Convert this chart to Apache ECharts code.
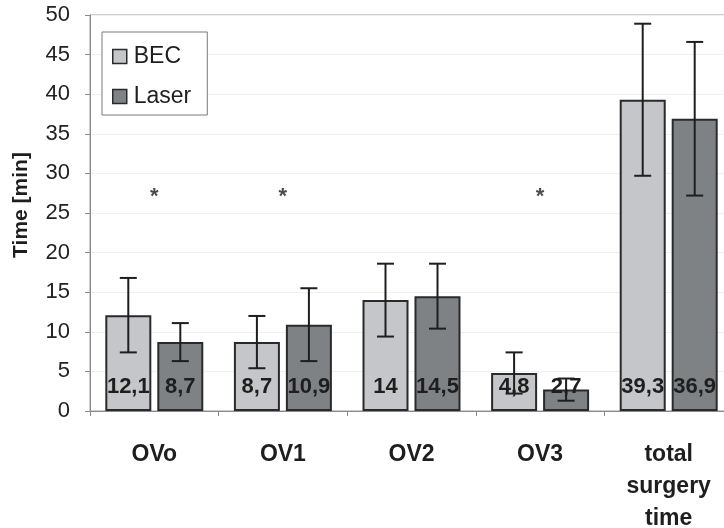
<!DOCTYPE html>
<html>
<head>
<meta charset="utf-8">
<script src="https://cdn.jsdelivr.net/npm/echarts@6/dist/echarts.min.js"></script>
<style>
  html, body { margin: 0; padding: 0; background: #ffffff; }
  #chart { width: 724px; height: 528px; }
</style>
</head>
<body>
<div id="chart"></div>
<script>
// Procedure phases
const categories = ['OVo', 'OV1', 'OV2', 'OV3', 'total\nsurgery\ntime'];
// Mean durations [min]
const becMean   = [12.1, 8.7, 14.0, 4.8, 39.3];
const laserMean = [8.7, 10.9, 14.5, 2.7, 36.9];
// Standard deviations [min]
const becSd   = [4.7, 3.3, 4.6, 2.6, 9.6];
const laserSd = [2.4, 4.6, 4.1, 1.4, 9.7];
// Significance markers (category index, height on the time axis)
const starCats   = [0, 1, 3];
const starHeight = [27, 27, 27];
// Axis ticks
const yTicks = { min: 0, max: 50, step: 5 };

const fmt = v => String(v % 1 === 0 ? v : v.toFixed(1)).replace('.', ',');

const BAR_W = 46;
const BAR_GAP = 6;
const half = (BAR_W + BAR_GAP) / 2;

const chart = echarts.init(document.getElementById('chart'), null, { renderer: 'canvas' });

function errorBars(offset) {
  return function (params, api) {
    const ci = api.value(0);
    const m = api.value(1);
    const s = api.value(2);
    const top = api.coord([ci, m + s]);
    const bot = api.coord([ci, m - s]);
    const x = top[0] + offset;
    const cap = 8.5;
    const style = { stroke: '#1e1e1e', lineWidth: 2, fill: null };
    return {
      type: 'group',
      children: [
        { type: 'line', shape: { x1: x, y1: top[1], x2: x, y2: bot[1] }, style },
        { type: 'line', shape: { x1: x - cap, y1: top[1], x2: x + cap, y2: top[1] }, style },
        { type: 'line', shape: { x1: x - cap, y1: bot[1], x2: x + cap, y2: bot[1] }, style }
      ]
    };
  };
}

const barLabel = {
  show: true,
  position: 'insideBottom',
  distance: 13,
  formatter: p => fmt(p.value),
  fontFamily: 'Liberation Sans, Arial, sans-serif',
  fontWeight: 'bold',
  fontSize: 22,
  color: '#1e1e1e'
};

chart.setOption({
  animation: false,
  backgroundColor: '#ffffff',
  grid: {
    left: 90, top: 15, right: -9, bottom: 117,
    outerBoundsMode: 'none',
    containLabel: false,
    show: true, borderColor: '#9a9a9a', borderWidth: 1
  },
  legend: {
    orient: 'vertical',
    left: 102, top: 32,
    padding: [13, 16, 7, 10],
    itemGap: 17,
    itemWidth: 14, itemHeight: 14,
    backgroundColor: '#ffffff',
    borderColor: '#7a7a7a', borderWidth: 1,
    textStyle: { fontFamily: 'Liberation Sans, Arial, sans-serif', fontSize: 23, color: '#1e1e1e', padding: [0, 0, 0, 2] },
    data: [
      { name: 'BEC', icon: 'rect', itemStyle: { color: '#c4c6c9', borderColor: '#2a2a2a', borderWidth: 1.5 } },
      { name: 'Laser', icon: 'rect', itemStyle: { color: '#7f8285', borderColor: '#2a2a2a', borderWidth: 1.5 } }
    ]
  },
  xAxis: {
    type: 'category',
    data: categories,
    axisLine: { lineStyle: { color: '#8a8a8a', width: 1 } },
    axisTick: { show: true, alignWithLabel: false, length: 5, lineStyle: { color: '#8a8a8a' } },
    axisLabel: {
      interval: 0,
      margin: 28,
      fontFamily: 'Liberation Sans, Arial, sans-serif',
      fontWeight: 'bold',
      fontSize: 23,
      lineHeight: 32,
      color: '#1e1e1e'
    }
  },
  yAxis: {
    type: 'value',
    min: yTicks.min, max: yTicks.max, interval: yTicks.step,
    name: 'Time [min]',
    nameLocation: 'middle',
    nameRotate: 90,
    nameGap: 58,
    nameTextStyle: { fontFamily: 'Liberation Sans, Arial, sans-serif', fontWeight: 'bold', fontSize: 21, color: '#1e1e1e', padding: [0, 0, 0, 16] },
    axisLine: { show: true, lineStyle: { color: '#8a8a8a', width: 1 } },
    axisTick: { show: true, inside: false, length: 5, lineStyle: { color: '#8a8a8a' } },
    axisLabel: { margin: 20, fontFamily: 'Liberation Sans, Arial, sans-serif', fontSize: 22, color: '#222222' },
    splitLine: { show: true, lineStyle: { color: '#f0f0f0', width: 1 } }
  },
  series: [
    {
      name: 'BEC', type: 'bar', data: becMean,
      barWidth: BAR_W, barGap: (BAR_GAP / BAR_W * 100).toFixed(1) + '%',
      itemStyle: { color: '#c4c6c9', borderColor: '#2a2a2a', borderWidth: 2 },
      label: barLabel, z: 2
    },
    {
      name: 'Laser', type: 'bar', data: laserMean,
      barWidth: BAR_W,
      itemStyle: { color: '#7f8285', borderColor: '#2a2a2a', borderWidth: 2 },
      label: barLabel, z: 2
    },
    {
      type: 'custom', name: 'BEC sd', z: 5,
      renderItem: errorBars(-half),
      encode: { x: 0, y: [1] },
      data: becMean.map((m, i) => [i, m, becSd[i]]),
      silent: true
    },
    {
      type: 'custom', name: 'Laser sd', z: 5,
      renderItem: errorBars(half),
      encode: { x: 0, y: [1] },
      data: laserMean.map((m, i) => [i, m, laserSd[i]]),
      silent: true
    },
    {
      type: 'scatter', name: 'sig', z: 6,
      symbolSize: 0,
      data: starCats.map((c, i) => [c, starHeight[i]]),
      label: {
        show: true, position: 'inside', formatter: '*',
        fontFamily: 'Liberation Sans, Arial, sans-serif', fontSize: 22, fontWeight: 'bold', color: '#1e1e1e'
      },
      silent: true
    }
  ]
});
</script>
</body>
</html>
